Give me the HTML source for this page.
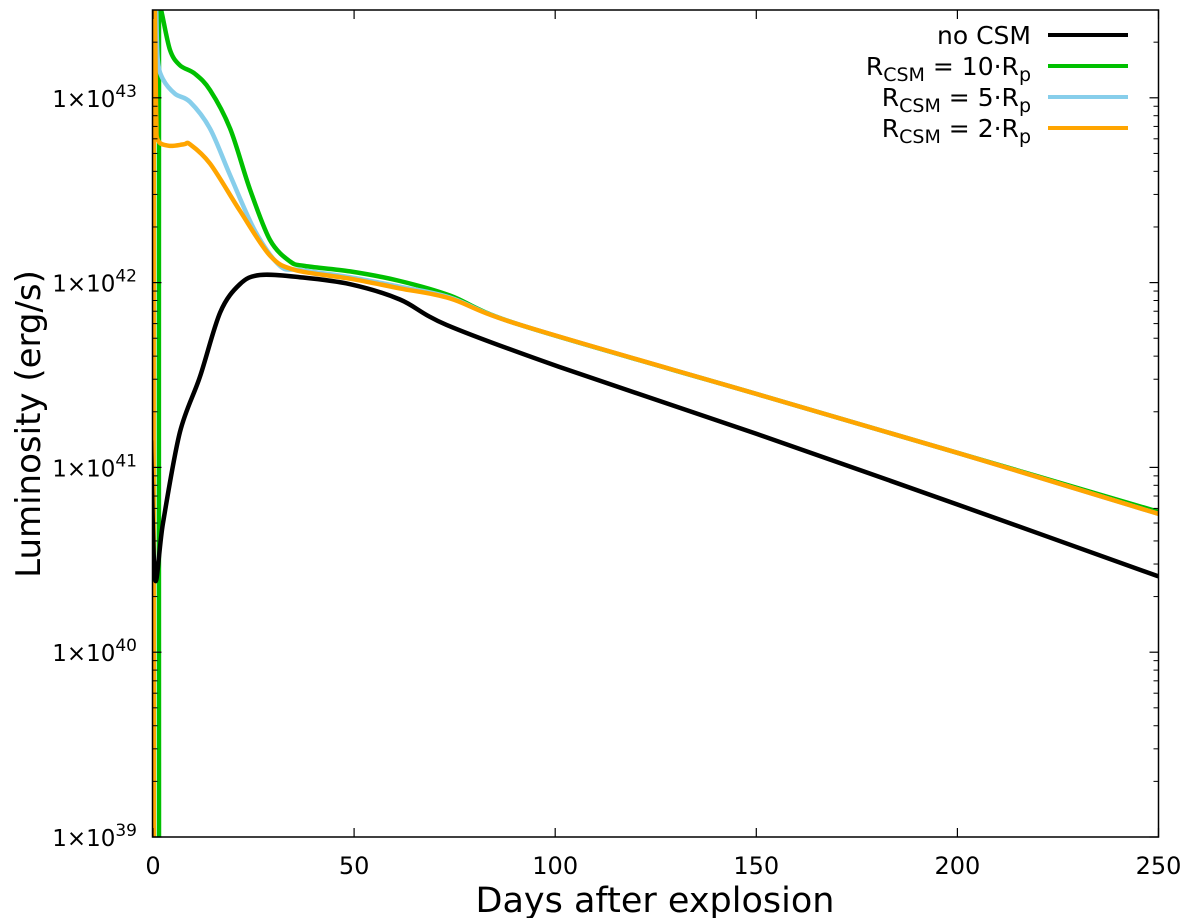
<!DOCTYPE html>
<html><head><meta charset="utf-8"><style>
html,body{margin:0;padding:0;background:#fff;}
svg{display:block;font-family:"DejaVu Sans","Liberation Sans",sans-serif;}
</style></head><body>
<svg id="chart" width="1200" height="918">
<g id="grid"></g>
<g id="series"></g>
<g id="frame"></g>
<g id="legend"></g>
<text x="655" y="912" font-size="35" text-anchor="middle">Days after explosion</text>
<text transform="translate(40,424) rotate(-90)" font-size="34" text-anchor="middle">Luminosity (erg/s)</text>
</svg>
<script>
const xTicks=[0,50,100,150,200,250];
const yTickExps=[39,40,41,42,43];
const noCsmDays=[-0.5,0.5,2.5,6.7,11.7,16.7,21.6,26.6,36.5,49,61.4,73,101,150,200,250];
const noCsmLum=[1.4e41,2.5e40,5e40,1.55e41,3.1e41,6.9e41,9.8e41,1.1e42,1.07e42,9.8e41,8.1e41,5.9e41,3.5e41,1.52e41,6.3e40,2.57e40];
const r10Days=[1.5,1.5,2,4.2,6.7,10.4,14.2,19.2,24.1,29.1,34.1,37.8,49,61.4,73.9,91.3,150,200,250];
const r10Lum=[1e39,3e43,3e43,1.82e43,1.5e43,1.35e43,1.1e43,6.8e42,3.2e42,1.7e42,1.3e42,1.23e42,1.15e42,1.02e42,8.5e41,5.9e41,2.5e41,1.2e41,5.75e40];
const r5Days=[0.8,1.2,2.5,5.5,9.2,14.2,19.2,25.4,31.6,36.5,49,61.4,73.9,91.3,150,200,250];
const r5Lum=[3e43,1.6e43,1.26e43,1.05e43,9.5e42,6.8e42,3.8e42,1.9e42,1.23e42,1.17e42,1.07e42,9.5e41,8.3e41,5.9e41,2.5e41,1.2e41,5.6e40];
const r2Days=[0.2,0.2,0.8,1.2,4,7.7,9.2,14.2,21.6,29.1,35.3,49,61.4,73.9,91.3,150,200,250];
const r2Lum=[1e39,3e43,8e42,5.9e42,5.5e42,5.6e42,5.6e42,4.4e42,2.45e42,1.4e42,1.17e42,1.05e42,9.3e41,8.2e41,5.9e41,2.5e41,1.2e41,5.6e40];

const L=152.5,R=1158.5,T=10,B=837;
const X0=-0.12,X1=250,decPx=184.8;
function xs(d){return L+(d-X0)/(X1-X0)*(R-L);}
function ys(v){return B-(Math.log10(v)-39)*decPx;}
const NS="http://www.w3.org/2000/svg";
function mk(tag,attrs,parent){const e=document.createElementNS(NS,tag);for(const k in attrs)e.setAttribute(k,attrs[k]);parent.appendChild(e);return e;}
const frame=document.getElementById('frame');
const defs=mk('defs',{},document.getElementById('chart'));
const cp=mk('clipPath',{id:'clip'},defs);
mk('rect',{x:L,y:T,width:R-L,height:B-T},cp);

function smoothPath(pts){
  let d='M'+pts[0][0].toFixed(1)+','+pts[0][1].toFixed(1);
  const t=0.16;
  for(let i=0;i<pts.length-1;i++){
    const p0=pts[Math.max(0,i-1)],p1=pts[i],p2=pts[i+1],p3=pts[Math.min(pts.length-1,i+2)];
    const c1=[p1[0]+(p2[0]-p0[0])*t,p1[1]+(p2[1]-p0[1])*t];
    const c2=[p2[0]-(p3[0]-p1[0])*t,p2[1]-(p3[1]-p1[1])*t];
    d+=' C'+c1[0].toFixed(1)+','+c1[1].toFixed(1)+' '+c2[0].toFixed(1)+','+c2[1].toFixed(1)+' '+p2[0].toFixed(1)+','+p2[1].toFixed(1);
  }
  return d;
}
const ser=document.getElementById('series');
ser.setAttribute('clip-path','url(#clip)');
function line(days,lum,color,name){
  const pts=days.map((d,i)=>[xs(d),ys(lum[i])]);
  const p=mk('path',{d:smoothPath(pts),fill:'none',stroke:color,'stroke-width':4.5,'stroke-linejoin':'round'},ser);
  
  
}
line(r10Days,r10Lum,'#00c000','series-r-csm-10');
line(r5Days,r5Lum,'#87ceeb','series-r-csm-5');
line(r2Days,r2Lum,'#ffa500','series-r-csm-2');
line(noCsmDays,noCsmLum,'#000000','series-no-csm');

const box=mk('rect',{x:L,y:T,width:R-L,height:B-T,fill:'none',stroke:'#000','stroke-width':1.5},frame);


xTicks.forEach(t=>{
  const x=xs(t);
  mk('line',{x1:x,x2:x,y1:B,y2:B-9,stroke:'#000','stroke-width':1.2},frame);
  mk('line',{x1:x,x2:x,y1:T,y2:T+9,stroke:'#000','stroke-width':1.2},frame);
  const tx=mk('text',{x:x,y:B+37,'font-size':24,'text-anchor':'middle'},frame);
  tx.textContent=t;
  
  
});
yTickExps.forEach(e=>{
  const y=ys(Math.pow(10,e));
  mk('line',{x1:L,x2:L+9,y1:y,y2:y,stroke:'#000','stroke-width':1.2},frame);
  mk('line',{x1:R,x2:R-9,y1:y,y2:y,stroke:'#000','stroke-width':1.2},frame);
  for(let m=2;m<=9;m++){
    const yy=ys(m*Math.pow(10,e));
    if(yy<T)continue;
    mk('line',{x1:L,x2:L+5,y1:yy,y2:yy,stroke:'#000','stroke-width':1},frame);
    mk('line',{x1:R,x2:R-5,y1:yy,y2:yy,stroke:'#000','stroke-width':1},frame);
  }
  const tx=mk('text',{x:137,y:y+9,'font-size':23,'text-anchor':'end'},frame);
  
  
  tx.innerHTML='1×10<tspan dy="-10" font-size="17">'+e+'</tspan>';
});

const lg=document.getElementById('legend');
const entries=[['no CSM','#000',null],['10','#00c000',1],['5','#87ceeb',1],['2','#ffa500',1]];
entries.forEach((en,i)=>{
  const y=35+i*31;
  const g=mk('g',{},lg);
  
  
  mk('line',{x1:1048,x2:1128,y1:y,y2:y,stroke:en[1],'stroke-width':4},g);
  const t=mk('text',{x:1031,y:y+9,'font-size':25,'text-anchor':'end'},g);
  if(en[2]===null)t.textContent=en[0];
  else t.innerHTML='R<tspan dy="6" font-size="19">CSM</tspan><tspan dy="-6"> = '+en[0]+'·R</tspan><tspan dy="6" font-size="19">p</tspan>';
});
</script>
</body></html>
